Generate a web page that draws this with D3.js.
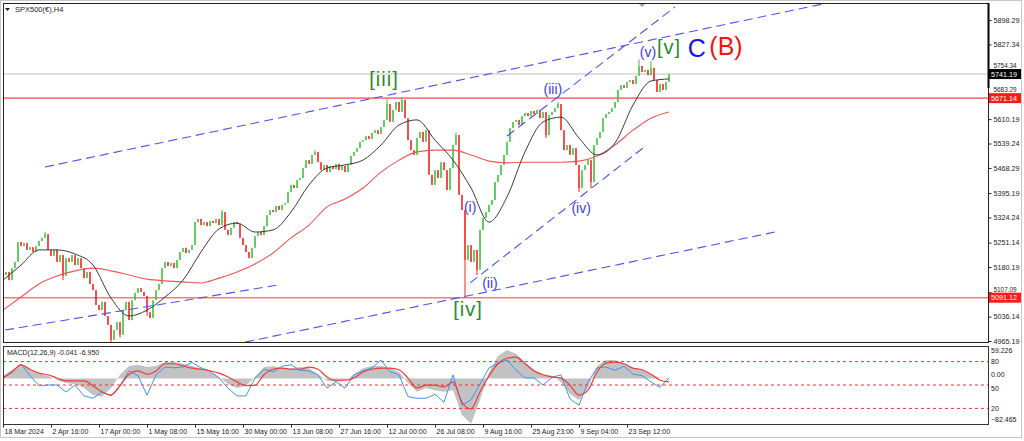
<!DOCTYPE html>
<html><head><meta charset="utf-8">
<script src="https://cdn.jsdelivr.net/npm/d3@7"></script>
<style>
html,body{margin:0;padding:0;background:#fff;}
svg{display:block;font-family:"Liberation Sans",Arial,sans-serif;}
</style></head><body>
<svg id="c" width="1024" height="441"></svg>
<script>
// ---------- DATA ----------
const closes = [
5157,5166,5142,5177,5195,5253,5241,5250,5230,5238,
5224,5241,5256,5265,5276,5230,5212,5230,5195,5215,
5154,5206,5195,5215,5186,5206,5177,5148,5166,5131,
5113,5070,5055,5079,5038,5012,4968,4997,5020,4983,
5055,5079,5026,5084,5105,5119,5108,5096,5049,5032,
5084,5113,5131,5177,5195,5183,5192,5177,5201,5224,
5236,5221,5230,5244,5311,5320,5302,5311,5299,5314,
5308,5320,5302,5340,5288,5273,5294,5311,5305,5265,
5244,5224,5206,5236,5270,5282,5273,5299,5331,5346,
5340,5358,5346,5361,5366,5398,5419,5410,5433,5439,
5468,5491,5480,5506,5515,5485,5462,5477,5456,5474,
5465,5480,5462,5474,5456,5477,5503,5515,5526,5544,
5549,5561,5552,5570,5578,5567,5587,5608,5654,5602,
5637,5660,5631,5666,5613,5549,5520,5506,5555,5573,
5544,5578,5448,5419,5462,5439,5485,5462,5404,5468,
5535,5564,5390,5346,5201,5244,5195,5230,5172,5288,
5323,5340,5361,5375,5427,5448,5477,5506,5544,5584,
5602,5608,5593,5619,5628,5619,5634,5625,5637,5613,
5631,5564,5622,5631,5642,5654,5578,5520,5535,5506,
5526,5477,5410,5462,5477,5491,5427,5535,5555,5573,
5613,5625,5631,5642,5660,5695,5709,5701,5718,5724,
5712,5736,5765,5747,5753,5738,5759,5724,5689,5712,
5695,5718,5741
];
const lowWicks = [[20,5142],[36,4959],[39,4975],[48,5038],[154,5091],[158,5157],[181,5555],[192,5398],[196,5410]];
const highWicks = [[14,5283],[73,5346],[104,5520],[128,5668],[133,5672],[151,5572],[185,5660],[212,5784],[216,5778]];
const maStep = 6;
const fastMA = [5142,5186,5230,5230,5218,5186,5090,5038,5055,5093,5142,5224,5291,5308,5282,5288,5340,5419,5468,5477,5491,5535,5593,5608,5549,5491,5410,5311,5384,5515,5602,5616,5555,5506,5541,5651,5721,5727];
const slowMA = [5055,5093,5131,5154,5169,5177,5169,5157,5145,5140,5137,5134,5148,5166,5189,5221,5265,5302,5355,5378,5410,5456,5491,5515,5520,5520,5506,5488,5483,5485,5485,5485,5488,5503,5535,5578,5613,5631];
const oscStep = 3;
const macdMain = [5,16,25,16,10,5,-3,-8,-10,-17,-30,-33,-17,7,23,25,21,23,30,30,27,23,19,12,3,-10,-17,-13,3,21,23,19,19,21,19,8,-4,-6,-4,8,19,23,23,19,12,-8,-24,-17,-21,-24,-21,-66,-82,-39,12,41,52,45,30,16,8,5,-6,-28,-39,-17,23,34,34,27,19,16,8,1,-1];
const macdSignal = [1,12,25,17,10,7,1,-4,-4,-4,-13,-24,-30,-13,8,14,8,14,27,27,23,19,17,14,10,3,-6,-13,-12,7,17,19,17,17,21,17,3,-3,-3,1,12,17,19,19,16,1,-17,-12,-12,-15,-6,-43,-55,-24,5,27,37,39,27,14,7,3,1,-12,-30,-21,12,28,30,27,19,16,8,-3,-6];
const oscLine = [59,67,77,62,49,50,50,41,50,36,33,41,36,49,68,62,37,63,73,72,73,79,72,68,59,46,36,36,59,70,67,74,76,69,68,63,46,54,46,63,68,72,82,67,63,35,33,33,38,28,63,24,31,51,72,78,82,69,59,59,50,60,63,32,24,54,72,73,69,74,64,62,54,47,59];
const oscLevels = [80,50,20];
const macdTicks = [59.226,0,-82.465];
const priceTicks = [5898.29,5827.34,5754.34,5683.29,5610.19,5539.24,5468.29,5395.19,5324.24,5251.14,5180.19,5107.09,5036.14,4965.19];
const priceDomain = [4965.19,5898.29];
const macdDomain = [-82.465,59.226];
const timeTickBars = [0,16,32,48,64,80,96,112,128,144,160,176,192,208];
const timeLabels = ["18 Mar 2024","2 Apr 16:00","17 Apr 00:00","1 May 08:00","15 May 16:00","30 May 00:00","13 Jun 08:00","27 Jun 16:00","12 Jul 00:00","26 Jul 08:00","9 Aug 16:00","25 Aug 23:00","9 Sep 04:00","23 Sep 12:00"];
const currentPrice = 5741.19;
const levelPrices = [5671.14,5091.12];
const trendLines = [[14,5471,275,5948],[0.67,4997,91.7,5128],[80.7,4962,257.3,5282],[155.7,5134,213.3,5526],[168,5561,224,5936]];
const greenLabels = [["[iii]",127,5727],["[iv]",155,5058],["[v]",222,5820]];
const blueLabels = [["(i)",155.7,5355],["(ii)",162.3,5134],["(iii)",183.3,5698],["(iv)",192.7,5352],["(v)",215,5805]];
const bigLabels = [["C",231.3,5817],["(B)",241,5823]];

// ---------- LAYOUT ----------
const L = 3, R = 988, T = 3, B = 342, MT = 346, MB = 424;
const svg = d3.select("#c");
svg.append("rect").attr("width",1024).attr("height",441).attr("fill","#fff");
svg.append("rect").attr("x",0.5).attr("y",0.5).attr("width",1021).attr("height",437).attr("fill","none").attr("stroke","#c8c8c8");

const x = d3.scaleLinear().domain([0,222]).range([3,669]);
const y = d3.scaleLinear().domain(priceDomain).range([341,20]);
const my = d3.scaleLinear().domain(macdDomain).range([MB,MT]);
const sy = d3.scaleLinear().domain([0,100]).range([MB,MT]);

const defs = svg.append("defs");
defs.append("clipPath").attr("id","cm").append("rect").attr("x",L).attr("y",T).attr("width",R-L).attr("height",B-T);
defs.append("clipPath").attr("id","co").append("rect").attr("x",L).attr("y",MT).attr("width",R-L).attr("height",MB-MT);

const gm = svg.append("g").attr("clip-path","url(#cm)");

// horizontal lines
gm.append("line").attr("x1",L).attr("x2",R).attr("y1",y(currentPrice)).attr("y2",y(currentPrice)).attr("stroke","#d4d4d4").attr("stroke-width",1.5);
levelPrices.forEach(p=>{
  gm.append("line").attr("x1",L).attr("x2",R).attr("y1",y(p)).attr("y2",y(p)).attr("stroke","#f47c7c").attr("stroke-width",1.6);
});

// candles
const up = "#3cc43c", dn = "#f52222";
closes.forEach((c,i)=>{
  const o = i>0 ? closes[i-1] : c;
  const col = c>=o ? up : dn;
  const y1 = y(Math.max(o,c)), y2 = y(Math.min(o,c));
  gm.append("rect").attr("x",x(i)-0.8).attr("y",y1).attr("width",1.6).attr("height",Math.max(1,y2-y1)).attr("fill",col);
});
lowWicks.forEach(([i,p])=>{
  const o = closes[i-1], c = closes[i];
  gm.append("line").attr("x1",x(i)).attr("x2",x(i)).attr("y1",y(Math.min(o,c))).attr("y2",y(p)).attr("stroke",c>=o?up:dn).attr("stroke-width",1);
});
highWicks.forEach(([i,p])=>{
  const o = closes[i-1], c = closes[i];
  gm.append("line").attr("x1",x(i)).attr("x2",x(i)).attr("y1",y(Math.max(o,c))).attr("y2",y(p)).attr("stroke",c>=o?up:dn).attr("stroke-width",1);
});

// moving averages
const maLine = d3.line().x((d,k)=>x(k*maStep)).y(d=>y(d)).curve(d3.curveMonotoneX);
gm.append("path").attr("d",maLine(slowMA)).attr("fill","none").attr("stroke","#f25555").attr("stroke-width",1.1);
gm.append("path").attr("d",maLine(fastMA)).attr("fill","none").attr("stroke","#3a3a3a").attr("stroke-width",1);

// trend lines
trendLines.forEach(([i1,p1,i2,p2])=>{
  gm.append("line").attr("x1",x(i1)).attr("y1",y(p1)).attr("x2",x(i2)).attr("y2",y(p2))
    .attr("stroke","#5050f5").attr("stroke-width",1.1).attr("stroke-dasharray","9,5");
});

// wave labels
greenLabels.forEach(([t,i,p])=>{
  svg.append("text").attr("x",x(i)).attr("y",y(p)).attr("text-anchor","middle").attr("dominant-baseline","central")
    .attr("font-size",20).attr("letter-spacing",1).attr("fill","#2b8a2b").text(t);
});
blueLabels.forEach(([t,i,p])=>{
  svg.append("text").attr("x",x(i)).attr("y",y(p)).attr("text-anchor","middle").attr("dominant-baseline","central")
    .attr("font-size",14).attr("fill","#3a3af5").text(t);
});
svg.append("text").attr("x",x(bigLabels[0][1])).attr("y",y(bigLabels[0][2])).attr("text-anchor","middle").attr("dominant-baseline","central")
  .attr("font-size",25).attr("fill","#1414f0").text(bigLabels[0][0]);
svg.append("text").attr("x",x(bigLabels[1][1])).attr("y",y(bigLabels[1][2])).attr("text-anchor","middle").attr("dominant-baseline","central")
  .attr("font-size",25).attr("fill","#f01414").text(bigLabels[1][0]);

// shift marker
svg.append("path").attr("d","M638,3 L646,3 L642,7 Z").attr("fill","#a0a0a0");

// frame
svg.append("rect").attr("x",L+0.5).attr("y",T+0.5).attr("width",R-L).attr("height",B-T).attr("fill","none").attr("stroke","#222");
svg.append("line").attr("x1",R+0.5).attr("x2",R+0.5).attr("y1",T).attr("y2",88).attr("stroke","#000").attr("stroke-width",2);

// price axis
const boxPrices = [currentPrice].concat(levelPrices);
const pa = svg.append("g").attr("transform",`translate(${R+0.5},0)`)
  .call(d3.axisRight(y).tickValues(priceTicks).tickFormat(d=>d.toFixed(2)).tickSize(3).tickPadding(2));
pa.select(".domain").remove();
pa.selectAll("text").attr("font-size",7.2).attr("fill","#222").attr("font-family","Liberation Sans, Arial");
pa.selectAll("line").attr("stroke","#222");
// labels that sit right under a level box are nudged just above it
pa.selectAll("text").each(function(t){
  const near = boxPrices.find(p=>Math.abs(y(t)-y(p))<9);
  if (near!==undefined){
    const shift = (y(near)-5.5) - (y(t)+3.2);
    d3.select(this).attr("font-size",6.4).attr("dy",`${(0.32*6.4+shift).toFixed(2)}px`);
  }
});

function priceBox(p,bg){
  const g = svg.append("g");
  g.append("rect").attr("x",R+1).attr("y",y(p)-5).attr("width",32).attr("height",10).attr("fill",bg);
  g.append("text").attr("x",R+3).attr("y",y(p)).attr("dominant-baseline","central").attr("font-size",7.2).attr("fill","#fff").text(p.toFixed(2));
}
priceBox(currentPrice,"#000");
levelPrices.forEach(p=>priceBox(p,"#ff1a1a"));

// title
svg.append("path").attr("d","M5,8 L10,8 L7.5,11 Z").attr("fill","#222");
svg.append("text").attr("x",15).attr("y",12).attr("font-size",7.5).attr("fill","#222").text("SPX500(€),H4");

// ---------- OSCILLATOR PANEL ----------
const go = svg.append("g").attr("clip-path","url(#co)");
const ox = k=>x(k*oscStep);
go.append("path").attr("d",d3.area().x((d,k)=>ox(k)).y0(my(0)).y1(d=>my(d))(macdMain)).attr("fill","#c2c2c2");
oscLevels.forEach(v=>{
  go.append("line").attr("x1",L).attr("x2",R).attr("y1",sy(v)).attr("y2",sy(v)).attr("stroke","#f03030").attr("stroke-width",1).attr("stroke-dasharray","3,3");
});
go.append("path").attr("d",d3.line().x((d,k)=>ox(k)).y(d=>sy(d))(oscLine)).attr("fill","none").attr("stroke","#3d95f5").attr("stroke-width",1);
go.append("path").attr("d",d3.line().x((d,k)=>ox(k)).y(d=>my(d)).curve(d3.curveMonotoneX)(macdSignal)).attr("fill","none").attr("stroke","#f03a3a").attr("stroke-width",1.2);
svg.append("rect").attr("x",L+0.5).attr("y",MT+0.5).attr("width",R-L).attr("height",MB-MT).attr("fill","none").attr("stroke","#333");
svg.append("text").attr("x",7).attr("y",355).attr("font-size",7).attr("fill","#222").text("MACD(12,26,9) -0.041 -6.950");

const ma = svg.append("g").attr("transform",`translate(${R+1},0)`)
  .call(d3.axisRight(my).tickValues(macdTicks).tickFormat(d=>d===0?"0.00":d3.format(".3f")(d)).tickSize(0).tickPadding(2));
ma.select(".domain").remove();
ma.selectAll("text").attr("font-size",7).attr("fill","#222").attr("font-family","Liberation Sans, Arial");
ma.selectAll("text").filter(d=>d===macdDomain[1]).attr("dy","0.9em");
ma.selectAll("text").filter(d=>d===macdDomain[0]).attr("dy","-0.3em");
ma.selectAll("text").filter(d=>d===0).attr("dy","-0.3em");
const sa = svg.append("g").attr("transform",`translate(${R+1},0)`)
  .call(d3.axisRight(sy).tickValues(oscLevels).tickFormat(d3.format("d")).tickSize(0).tickPadding(2));
sa.select(".domain").remove();
sa.selectAll("text").attr("font-size",7).attr("fill","#222").attr("font-family","Liberation Sans, Arial");
sa.selectAll("text").filter(d=>d===50).attr("dy","0.75em");

// time axis
const ta = svg.append("g").attr("transform",`translate(0,${MB+0.5})`)
  .call(d3.axisBottom(x).tickValues(timeTickBars).tickFormat((d,k)=>timeLabels[k]).tickSize(3).tickPadding(2));
ta.select(".domain").remove();
ta.selectAll("line").attr("stroke","#222");
ta.selectAll("text").attr("font-size",7).attr("fill","#222").attr("text-anchor","start").attr("dx",1).attr("font-family","Liberation Sans, Arial");
</script>
</body></html>
